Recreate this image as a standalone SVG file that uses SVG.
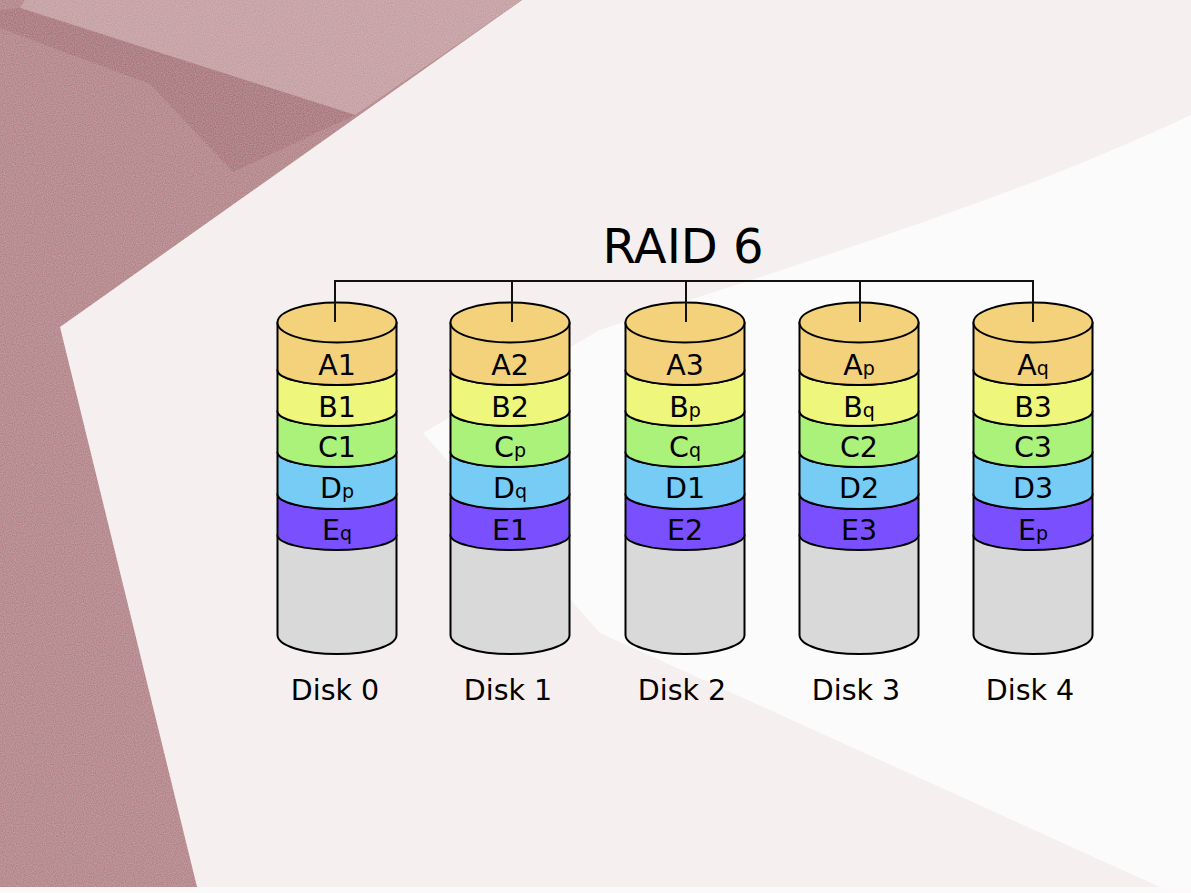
<svg xmlns="http://www.w3.org/2000/svg" width="1191" height="893" viewBox="0 0 1191 893">
  <style>
    .lbl { font-family: "DejaVu Sans", Verdana, sans-serif; font-size: 28.5px; fill: #000; text-anchor: middle; }
    .sub { font-size: 19px; }
    .title { font-family: "DejaVu Sans", Verdana, sans-serif; font-size: 48px; fill: #000; text-anchor: middle; }
    .edge { stroke: #000; stroke-width: 2; stroke-linejoin: round; }
    .a { fill: #f4d27b; }
    .b { fill: #eef67b; }
    .c { fill: #abf27b; }
    .d { fill: #77ccf5; }
    .e { fill: #7a50fe; }
    .g { fill: #d9d9d9; }
    .bus { fill: none; stroke: #111; stroke-width: 2; }
  </style>
  <defs>
    <filter id="grain" x="0" y="0" width="100%" height="100%">
      <feTurbulence type="fractalNoise" baseFrequency="0.9" numOctaves="1" seed="3" result="n"/>
      <feColorMatrix in="n" type="matrix" values="0 0 0 0 1  0 0 0 0 1  0 0 0 0 1  0 0 0 0.3 -0.06" result="w"/>
      <feComposite in="w" in2="SourceGraphic" operator="in" result="wm"/>
      <feMerge><feMergeNode in="SourceGraphic"/><feMergeNode in="wm"/></feMerge>
    </filter>
    <!-- one disk, centred on x=0 -->
    <g id="disk">
      <path class="g edge" d="M -59.5,535 L -59.5,635 A 59.5 19 0 0 0 59.5,635 L 59.5,535 Z"/>
      <path class="e edge" d="M -59.5,494 L -59.5,535 A 59.5 15 0 0 0 59.5,535 L 59.5,494 A 59.5 15 0 0 1 -59.5,494 Z"/>
      <path class="d edge" d="M -59.5,452 L -59.5,494 A 59.5 15 0 0 0 59.5,494 L 59.5,452 A 59.5 15 0 0 1 -59.5,452 Z"/>
      <path class="c edge" d="M -59.5,411 L -59.5,452 A 59.5 15 0 0 0 59.5,452 L 59.5,411 A 59.5 15 0 0 1 -59.5,411 Z"/>
      <path class="b edge" d="M -59.5,370 L -59.5,411 A 59.5 15 0 0 0 59.5,411 L 59.5,370 A 59.5 15 0 0 1 -59.5,370 Z"/>
      <path class="a edge" d="M -59.5,322.5 L -59.5,370 A 59.5 15 0 0 0 59.5,370 L 59.5,322.5 Z"/>
      <ellipse class="a edge" cx="0" cy="322.5" rx="59.5" ry="20"/>
    </g>
  </defs>

  <!-- background -->
  <g id="background">
    <rect x="0" y="0" width="1191" height="893" fill="#f5f0ef"/>
    <path d="M 600,330 C 800,262 1000,205 1191,115 L 1191,887 L 1160,887 L 600,633 L 423,433 Z" fill="#fcfbfb"/>
    <rect x="0" y="887" width="1191" height="6" fill="#fbf9f9"/>
    <g filter="url(#grain)">
      <polygon points="0,0 522,0 60,327 197,887 0,887" fill="#b07d82"/>
      <polygon points="25,0 522,0 355,115 20,8" fill="#c29a9d"/>
      <polygon points="20,8 355,115 233,172 150,84 0,28 0,10" fill="#a56d73"/>
    </g>
  </g>

  <text class="title" x="683" y="263">RAID 6</text>

  <g id="connectors">
    <path class="bus" d="M 335,322 L 335,281 L 1033,281 L 1033,322 M 512,281 L 512,322 M 686,281 L 686,322 M 860,281 L 860,322"/>
  </g>

  <g id="disk0">
    <use href="#disk" x="337"/>
    <line class="bus" x1="335" y1="281" x2="335" y2="322"/>
    <text class="lbl" x="337" y="375">A1</text>
    <text class="lbl" x="337" y="417">B1</text>
    <text class="lbl" x="337" y="457">C1</text>
    <text class="lbl" x="337" y="498">D<tspan class="sub">p</tspan></text>
    <text class="lbl" x="337" y="540">E<tspan class="sub">q</tspan></text>
    <text class="lbl" x="335" y="700">Disk 0</text>
  </g>

  <g id="disk1">
    <use href="#disk" x="510"/>
    <line class="bus" x1="512" y1="281" x2="512" y2="322"/>
    <text class="lbl" x="510" y="375">A2</text>
    <text class="lbl" x="510" y="417">B2</text>
    <text class="lbl" x="510" y="457">C<tspan class="sub">p</tspan></text>
    <text class="lbl" x="510" y="498">D<tspan class="sub">q</tspan></text>
    <text class="lbl" x="510" y="540">E1</text>
    <text class="lbl" x="508" y="700">Disk 1</text>
  </g>

  <g id="disk2">
    <use href="#disk" x="685"/>
    <line class="bus" x1="686" y1="281" x2="686" y2="322"/>
    <text class="lbl" x="685" y="375">A3</text>
    <text class="lbl" x="685" y="417">B<tspan class="sub">p</tspan></text>
    <text class="lbl" x="685" y="457">C<tspan class="sub">q</tspan></text>
    <text class="lbl" x="685" y="498">D1</text>
    <text class="lbl" x="685" y="540">E2</text>
    <text class="lbl" x="682" y="700">Disk 2</text>
  </g>

  <g id="disk3">
    <use href="#disk" x="859"/>
    <line class="bus" x1="860" y1="281" x2="860" y2="322"/>
    <text class="lbl" x="859" y="375">A<tspan class="sub">p</tspan></text>
    <text class="lbl" x="859" y="417">B<tspan class="sub">q</tspan></text>
    <text class="lbl" x="859" y="457">C2</text>
    <text class="lbl" x="859" y="498">D2</text>
    <text class="lbl" x="859" y="540">E3</text>
    <text class="lbl" x="856" y="700">Disk 3</text>
  </g>

  <g id="disk4">
    <use href="#disk" x="1033"/>
    <line class="bus" x1="1033" y1="281" x2="1033" y2="322"/>
    <text class="lbl" x="1033" y="375">A<tspan class="sub">q</tspan></text>
    <text class="lbl" x="1033" y="417">B3</text>
    <text class="lbl" x="1033" y="457">C3</text>
    <text class="lbl" x="1033" y="498">D3</text>
    <text class="lbl" x="1033" y="540">E<tspan class="sub">p</tspan></text>
    <text class="lbl" x="1030" y="700">Disk 4</text>
  </g>
</svg>
